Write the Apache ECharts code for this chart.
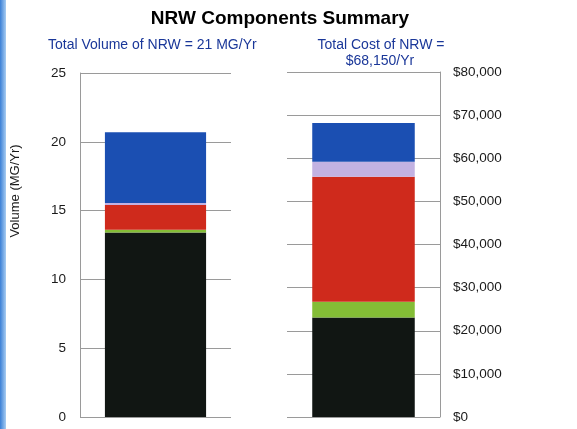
<!DOCTYPE html>
<html><head><meta charset="utf-8">
<script src="https://cdn.jsdelivr.net/npm/echarts@6/dist/echarts.min.js"></script>
<style>html,body{margin:0;padding:0;background:#fff}#c{width:577px;height:429px}</style>
</head><body><div id="c"></div>
<script>
const components = ['Component 1','Component 2','Component 3','Component 4','Component 5'];
const componentColors = ['#111613','#84bd36','#cf2a1c','#c2b2e2','#1b4fb2'];
const volumeValues = [13.4, 0.2, 1.8, 0.15, 5.15];   // MG/Yr
const costValues = [23100, 3600, 29000, 3500, 8950]; // $/Yr
const volumeTicks = {min:0, max:25, interval:5};
const costTicks = {min:0, max:80000, interval:10000};

const chart = echarts.init(document.getElementById('c'));
const font = 'Liberation Sans, Arial, sans-serif';
const gridColor = '#9a9a9a';
const series = [];
components.forEach((name,i)=>{
  series.push({name, type:'bar', stack:'vol', xAxisIndex:0, yAxisIndex:0, barWidth:'67%',
    itemStyle:{color:componentColors[i]}, data:[volumeValues[i]]});
});
components.forEach((name,i)=>{
  series.push({name, type:'bar', stack:'cost', xAxisIndex:1, yAxisIndex:1, barWidth:'67%',
    itemStyle:{color:componentColors[i]}, data:[costValues[i]]});
});
chart.setOption({
  animation:false,
  backgroundColor:'#fff',
  grid:[
    {left:80, top:73, width:151, height:344},
    {left:287, top:72, width:153, height:345}
  ],
  xAxis:[
    {gridIndex:0, type:'category', data:['Volume'], show:false},
    {gridIndex:1, type:'category', data:['Cost'], show:false}
  ],
  yAxis:[
    {gridIndex:0, type:'value', min:volumeTicks.min, max:volumeTicks.max, interval:volumeTicks.interval,
     axisLine:{show:true, lineStyle:{color:gridColor}}, axisTick:{show:false},
     splitLine:{lineStyle:{color:gridColor, width:1}},
     axisLabel:{color:'#1a1a1a', fontSize:13.5, fontFamily:font, margin:14}},
    {gridIndex:1, type:'value', position:'right', min:costTicks.min, max:costTicks.max, interval:costTicks.interval,
     axisLine:{show:true, lineStyle:{color:gridColor}}, axisTick:{show:false},
     splitLine:{lineStyle:{color:gridColor, width:1}},
     axisLabel:{color:'#1a1a1a', fontSize:13.5, fontFamily:font, margin:13,
       formatter:v=>'$'+v.toLocaleString('en-US')}}
  ],
  series,
  graphic:[
    {type:'rect', left:0, top:0, shape:{width:6, height:429},
     style:{fill:new echarts.graphic.LinearGradient(0,0,1,0,[{offset:0,color:'#3a7fd6'},{offset:1,color:'#a8cdf2'}])}},
    {type:'text', x:280, y:19, style:{text:'NRW Components Summary', font:'bold 19px '+font, fill:'#000', textAlign:'center', textVerticalAlign:'middle'}},
    {type:'text', x:48, y:45, style:{text:'Total Volume of NRW = 21 MG/Yr', font:'14px '+font, fill:'#1a3799', textAlign:'left', textVerticalAlign:'middle'}},
    {type:'text', x:381, y:45, style:{text:'Total Cost of NRW =', font:'14px '+font, fill:'#1a3799', textAlign:'center', textVerticalAlign:'middle'}},
    {type:'text', x:380, y:61, style:{text:'$68,150/Yr', font:'14px '+font, fill:'#1a3799', textAlign:'center', textVerticalAlign:'middle'}},
    {type:'text', x:15, y:191, rotation:Math.PI/2, style:{text:'Volume (MG/Yr)', font:'13px '+font, fill:'#1a1a1a', textAlign:'center', textVerticalAlign:'middle'}}
  ]
});
</script></body></html>
